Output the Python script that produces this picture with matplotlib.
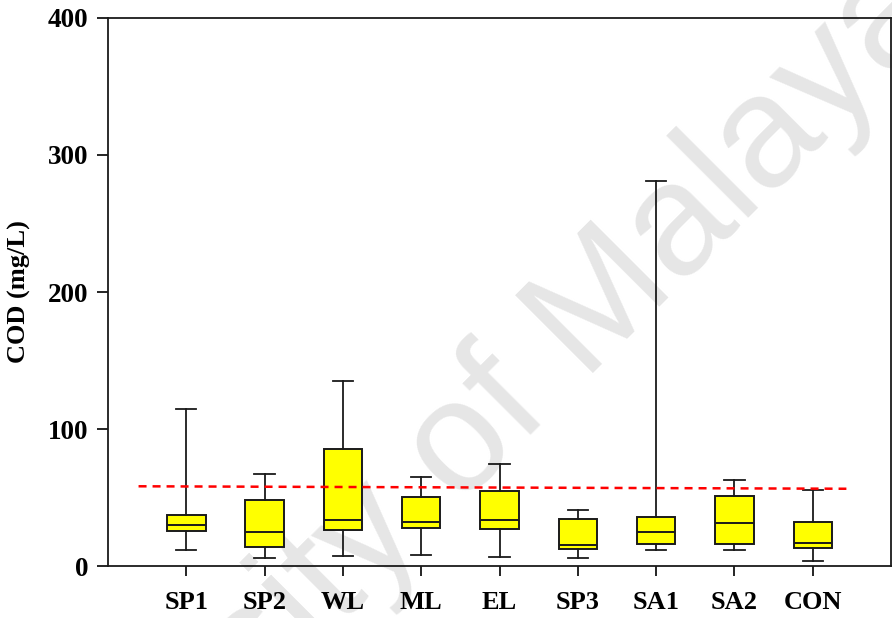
# Box plot of COD (mg/L) per sampling site with a dashed reference line
import matplotlib.pyplot as plt

# Sites
sites = ["SP1", "SP2", "WL", "ML", "EL", "SP3", "SA1", "SA2", "CON"]

# Box statistics per site (mg/L)
whislo = [11.9, 5.8, 7.3, 8.3, 6.6, 5.6, 11.9, 11.9, 3.9]
q1 = [25.3, 13.6, 26.5, 28.0, 27.3, 12.7, 16.3, 16.3, 12.9]
med = [29.7, 24.6, 33.8, 32.3, 33.8, 15.6, 25.1, 31.1, 16.8]
q3 = [37.4, 48.4, 85.2, 50.4, 54.7, 34.1, 35.8, 50.8, 32.1]
whishi = [114.6, 67.2, 134.8, 65.2, 74.5, 40.6, 281.0, 62.5, 55.7]

# Dashed reference line (start/end)
ref_x = [0.39, 9.43]
ref_y = [58.2, 56.4]

plt.rcParams['font.family'] = ['Liberation Serif', 'DejaVu Serif']
plt.rcParams['font.weight'] = 'bold'

fig = plt.figure(figsize=(8.92, 6.18), dpi=100)
ax = fig.add_axes([0.1211, 0.0841, 0.8778, 0.8868])
ax.set_facecolor('none')

# watermark behind everything
fig.text(0.493, 0.149, "University of Malaya", family='Liberation Sans',
         fontsize=115, color='#e6e6e6', rotation=45, rotation_mode='anchor',
         ha='center', va='baseline', zorder=-5, fontweight='normal')

stats = []
for i in range(len(sites)):
    stats.append({'label': sites[i], 'whislo': whislo[i], 'q1': q1[i],
                  'med': med[i], 'q3': q3[i], 'whishi': whishi[i], 'fliers': []})

ax.bxp(stats, positions=range(1, len(sites) + 1), widths=0.49, capwidths=0.26,
       patch_artist=True, showfliers=False,
       boxprops=dict(facecolor='yellow', edgecolor='#1a1a1a', linewidth=1.4),
       medianprops=dict(color='#1a1a1a', linewidth=1.4),
       whiskerprops=dict(color='#1a1a1a', linewidth=1.3),
       capprops=dict(color='#1a1a1a', linewidth=1.3))

ax.plot(ref_x, ref_y, color='red', linestyle='--', dashes=(3.2, 2.4), linewidth=1.8)

ax.set_xlim(0, 10)
ax.set_ylim(0, 400)
ax.set_yticks([0, 100, 200, 300, 400])
ax.set_xticks(range(1, len(sites) + 1))
ax.set_xticklabels(sites, fontsize=19, fontweight='bold')
ax.tick_params(axis='y', labelsize=19.5, direction='out', length=8, width=1.2, pad=6)
ax.tick_params(axis='x', direction='out', length=7, width=1.2, pad=11)
ax.set_ylabel("COD (mg/L)", fontsize=19, fontweight='bold', labelpad=12)

for s in ax.spines.values():
    s.set_linewidth(1.3)
    s.set_color('#1a1a1a')

fig.savefig("out.png", dpi=100)
